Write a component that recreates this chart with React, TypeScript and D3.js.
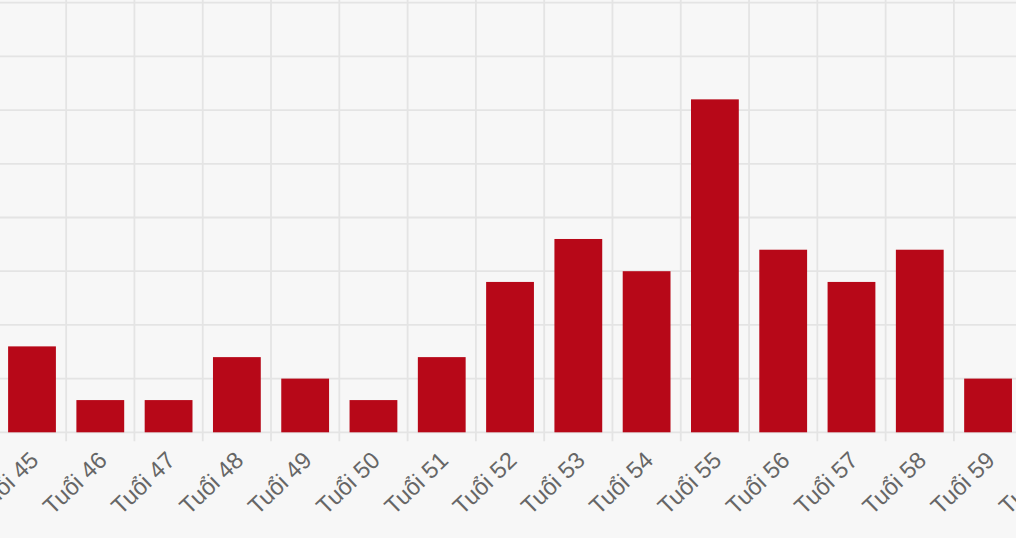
import React from "react";
import * as d3 from "d3";

const categories = [
  "Tuổi 45", "Tuổi 46", "Tuổi 47", "Tuổi 48", "Tuổi 49", "Tuổi 50", "Tuổi 51", "Tuổi 52",
  "Tuổi 53", "Tuổi 54", "Tuổi 55", "Tuổi 56", "Tuổi 57", "Tuổi 58", "Tuổi 59", "Tuổi 60",
];
const values: (number | null)[] = [8, 3, 3, 7, 5, 3, 7, 14, 18, 15, 31, 17, 14, 17, 5, null];
const yTicks = [0, 5, 10, 15, 20, 25, 30, 35, 40];

const W = 1016;
const H = 538;
const STEP = 68.29;
const X0 = -2.14;
const Y_BASE = 432.3;
const Y_TOP = 2.7;
const BAR_COLOR = "#b70818";
const GRID = "#e4e4e4";
const FONT = "'Helvetica Neue', Helvetica, Arial, 'Liberation Sans', sans-serif";

export default function App() {
  const x = d3
    .scaleBand<string>()
    .domain(categories)
    .range([X0, X0 + STEP * categories.length])
    .paddingInner(0.3)
    .paddingOuter(0.15);
  const y = d3.scaleLinear().domain([0, 40]).range([Y_BASE, Y_TOP]);
  const step = x.step();
  const bw = x.bandwidth();
  const half = (step - bw) / 2;
  const boundaries = categories.map((c) => (x(c) as number) - half);
  boundaries.push((x(categories[categories.length - 1]) as number) + bw + half);
  const angle = -44;

  return (
    <svg
      width={W}
      height={H}
      style={{ position: "fixed", left: 0, top: 0, display: "block" }}
    >
      <rect x={0} y={0} width={W} height={H} fill="#f7f7f7" />
      {yTicks.map((t) => (
        <line key={"h" + t} x1={0} x2={W} y1={y(t)} y2={y(t)} stroke={GRID} strokeWidth={1.8} />
      ))}
      {boundaries.map((b, i) => (
        <line key={"v" + i} x1={b} x2={b} y1={-5} y2={Y_BASE + 9} stroke={GRID} strokeWidth={1.8} />
      ))}
      {categories.map((c, i) => {
        const v = values[i];
        if (v === null) return null;
        return (
          <rect
            key={"b" + c}
            x={x(c) as number}
            y={y(v)}
            width={bw}
            height={Y_BASE - y(v)}
            fill={BAR_COLOR}
          />
        );
      })}
      {categories.map((c) => {
        const cx = (x(c) as number) + bw / 2;
        const px = cx + 8;
        const py = 462;
        return (
          <text
            key={"t" + c}
            transform={`translate(${px},${py}) rotate(${angle})`}
            textAnchor="end"
            fontFamily={FONT}
            fontSize={23.5}
            fill="#666"
          >
            {c}
          </text>
        );
      })}
    </svg>
  );
}
